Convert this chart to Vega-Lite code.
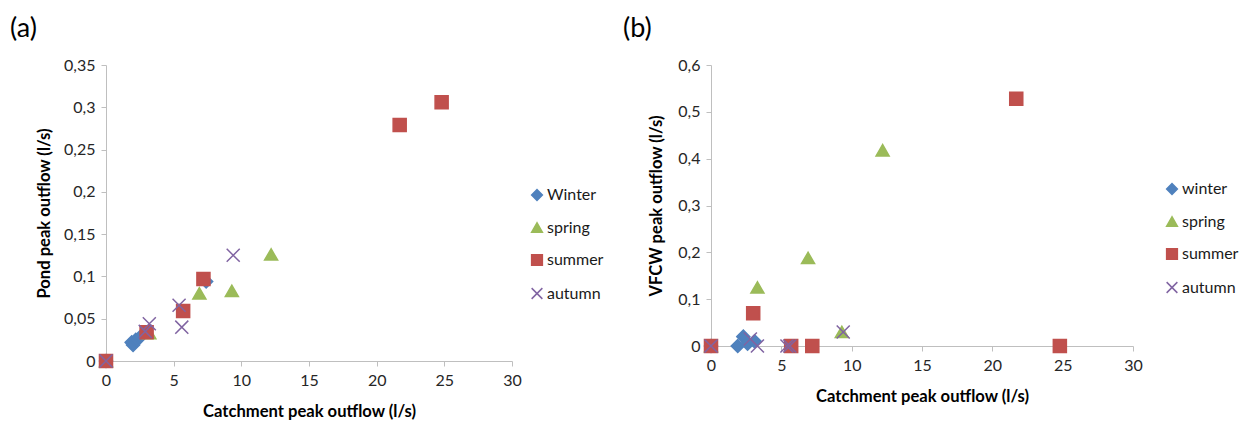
{
  "$schema": "https://vega.github.io/schema/vega-lite/v6.json",
  "background": "white",
  "padding": {"left": 10, "top": 14, "right": 0, "bottom": 0},
  "spacing": 199,
  "bounds": "flush",
  "config": {
    "font": "Lato",
    "view": {"stroke": null},
    "axis": {
      "grid": false,
      "domainColor": "#BFBFBF",
      "tickColor": "#BFBFBF",
      "tickSize": 5,
      "labelFlush": false,
      "labelFont": "Lato",
      "labelFontSize": 16,
      "labelColor": "#262626",
      "labelPadding": 6,
      "titleFont": "Lato",
      "titleFontSize": 16.6,
      "titleFontWeight": "bold",
      "titleColor": "#000000"
    },
    "legend": {
      "orient": "none",
      "labelFont": "Lato",
      "labelFontSize": 16,
      "labelColor": "#1a1a1a",
      "symbolSize": 115,
      "symbolStrokeWidth": 1.5,
      "rowPadding": 15.5,
      "labelOffset": 2
    }
  },
  "datasets": {
    "a": [
      {"season": "Winter", "x": 0, "y": 0},
      {"season": "Winter", "x": 1.9, "y": 0.022},
      {"season": "Winter", "x": 2.0, "y": 0.019},
      {"season": "Winter", "x": 2.2, "y": 0.025},
      {"season": "Winter", "x": 2.5, "y": 0.028},
      {"season": "Winter", "x": 7.4, "y": 0.094},
      {"season": "spring", "x": 0, "y": 0},
      {"season": "spring", "x": 3.2, "y": 0.033},
      {"season": "spring", "x": 6.9, "y": 0.08},
      {"season": "spring", "x": 9.3, "y": 0.083},
      {"season": "spring", "x": 12.2, "y": 0.126},
      {"season": "summer", "x": 0, "y": 0},
      {"season": "summer", "x": 3.0, "y": 0.034},
      {"season": "summer", "x": 5.7, "y": 0.059},
      {"season": "summer", "x": 7.2, "y": 0.097},
      {"season": "summer", "x": 21.7, "y": 0.279},
      {"season": "summer", "x": 24.8, "y": 0.306},
      {"season": "autumn", "x": 0, "y": 0},
      {"season": "autumn", "x": 2.9, "y": 0.035},
      {"season": "autumn", "x": 3.2, "y": 0.044},
      {"season": "autumn", "x": 5.4, "y": 0.066},
      {"season": "autumn", "x": 5.6, "y": 0.04},
      {"season": "autumn", "x": 9.4, "y": 0.125}
    ],
    "b": [
      {"season": "winter", "x": 0, "y": 0},
      {"season": "winter", "x": 1.9, "y": 0},
      {"season": "winter", "x": 2.3, "y": 0.02},
      {"season": "winter", "x": 2.6, "y": 0.005},
      {"season": "winter", "x": 3.1, "y": 0.01},
      {"season": "spring", "x": 0, "y": 0},
      {"season": "spring", "x": 3.3, "y": 0.125},
      {"season": "spring", "x": 6.9, "y": 0.188},
      {"season": "spring", "x": 9.3, "y": 0.03},
      {"season": "spring", "x": 12.2, "y": 0.418},
      {"season": "summer", "x": 0, "y": 0},
      {"season": "summer", "x": 3.0, "y": 0.07},
      {"season": "summer", "x": 5.7, "y": 0},
      {"season": "summer", "x": 7.2, "y": 0},
      {"season": "summer", "x": 21.7, "y": 0.528},
      {"season": "summer", "x": 24.8, "y": 0},
      {"season": "autumn", "x": 0, "y": 0},
      {"season": "autumn", "x": 2.8, "y": 0.015},
      {"season": "autumn", "x": 3.3, "y": 0},
      {"season": "autumn", "x": 5.4, "y": 0},
      {"season": "autumn", "x": 5.6, "y": 0},
      {"season": "autumn", "x": 9.4, "y": 0.03}
    ]
  },
  "hconcat": [
    {
      "width": 406,
      "height": 296,
      "title": {"text": "(a)", "anchor": "start", "frame": "group", "font": "Lato", "fontSize": 27, "fontWeight": "normal", "color": "#000000", "dx": -96, "offset": 14.5},
      "data": {"name": "a"},
      "mark": {"type": "point", "filled": true, "opacity": 1, "strokeWidth": 1.5, "size": 170},
      "encoding": {
        "x": {"field": "x", "type": "quantitative", "scale": {"domain": [0, 30], "nice": false, "zero": true},
              "axis": {"title": "Catchment peak outflow (l/s)", "values": [0, 5, 10, 15, 20, 25, 30], "titlePadding": 15}},
        "y": {"field": "y", "type": "quantitative", "scale": {"domain": [0, 0.35], "nice": false},
              "axis": {"title": "Pond peak outflow (l/s)", "values": [0, 0.05, 0.1, 0.15, 0.2, 0.25, 0.3, 0.35], "format": ".2~f", "labelExpr": "replace(datum.label, '.', ',')", "titlePadding": 11}},
        "shape": {"field": "season", "type": "nominal",
                  "scale": {"domain": ["Winter", "spring", "summer", "autumn"], "range": ["diamond", "triangle-up", "square", "M-1,-1L1,1M-1,1L1,-1"]},
                  "legend": {"title": null, "legendX": 423, "legendY": 122}},
        "fill": {"field": "season", "type": "nominal",
                 "scale": {"domain": ["Winter", "spring", "summer", "autumn"], "range": ["#4F81BD", "#9BBB59", "#C0504D", "#8064A2"]},
                 "legend": {"title": null, "legendX": 423, "legendY": 122}},
        "stroke": {"field": "season", "type": "nominal",
                   "scale": {"domain": ["Winter", "spring", "summer", "autumn"], "range": ["#4F81BD", "#9BBB59", "#C0504D", "#8064A2"]},
                   "legend": {"title": null, "legendX": 423, "legendY": 122}}
      }
    },
    {
      "width": 422,
      "height": 281,
      "title": {"text": "(b)", "anchor": "start", "frame": "group", "font": "Lato", "fontSize": 27, "fontWeight": "normal", "color": "#000000", "dx": -88, "offset": 14.5},
      "data": {"name": "b"},
      "mark": {"type": "point", "filled": true, "opacity": 1, "strokeWidth": 1.5, "size": 170},
      "encoding": {
        "x": {"field": "x", "type": "quantitative", "scale": {"domain": [0, 30], "nice": false, "zero": true},
              "axis": {"title": "Catchment peak outflow (l/s)", "values": [0, 5, 10, 15, 20, 25, 30], "titlePadding": 15.5}},
        "y": {"field": "y", "type": "quantitative", "scale": {"domain": [0, 0.6], "nice": false},
              "axis": {"title": "VFCW peak outflow (l/s)", "values": [0, 0.1, 0.2, 0.3, 0.4, 0.5, 0.6], "format": ".1~f", "labelExpr": "replace(datum.label, '.', ',')", "titlePadding": 13}},
        "shape": {"field": "season", "type": "nominal",
                  "scale": {"domain": ["winter", "spring", "summer", "autumn"], "range": ["diamond", "triangle-up", "square", "M-1,-1L1,1M-1,1L1,-1"]},
                  "legend": {"title": null, "legendX": 453, "legendY": 116}},
        "fill": {"field": "season", "type": "nominal",
                 "scale": {"domain": ["winter", "spring", "summer", "autumn"], "range": ["#4F81BD", "#9BBB59", "#C0504D", "#8064A2"]},
                 "legend": {"title": null, "legendX": 453, "legendY": 116}},
        "stroke": {"field": "season", "type": "nominal",
                   "scale": {"domain": ["winter", "spring", "summer", "autumn"], "range": ["#4F81BD", "#9BBB59", "#C0504D", "#8064A2"]},
                   "legend": {"title": null, "legendX": 453, "legendY": 116}}
      }
    }
  ],
  "resolve": {"scale": {"shape": "independent", "fill": "independent", "stroke": "independent", "x": "independent", "y": "independent"}}
}
